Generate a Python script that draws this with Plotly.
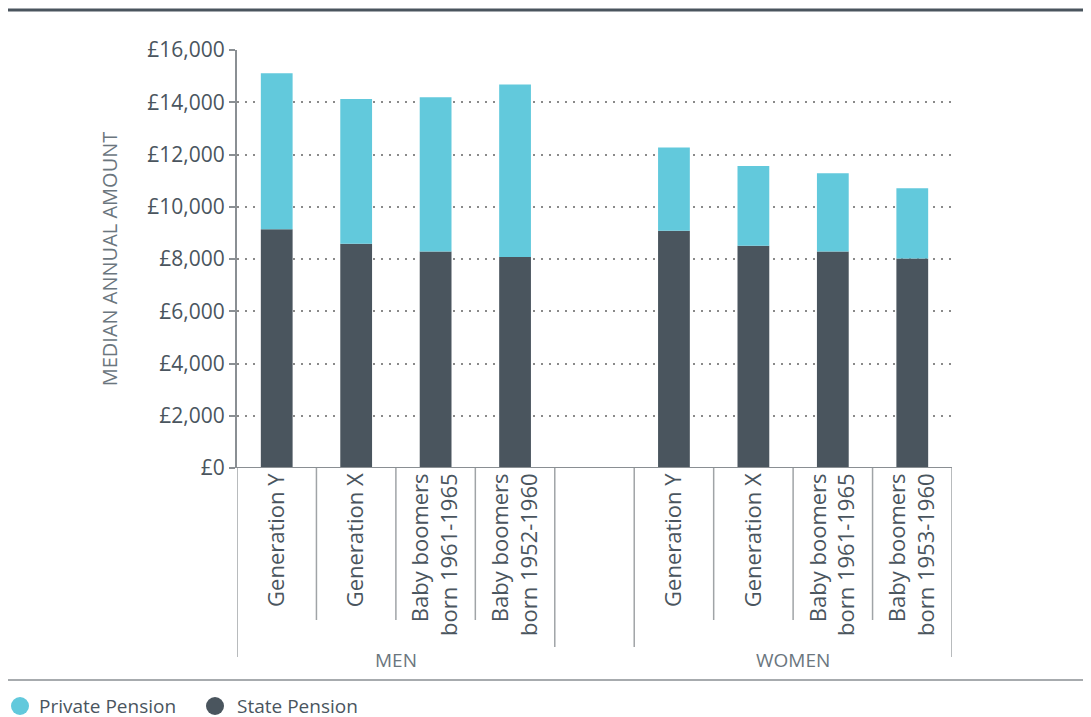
import plotly.graph_objects as go

groups = ["MEN", "WOMEN"]
categories = ["Generation Y", "Generation X", "Baby boomers<br>born 1961-1965", "Baby boomers<br>born 1952-1960",
              "Generation Y", "Generation X", "Baby boomers<br>born 1961-1965", "Baby boomers<br>born 1953-1960"]
state_pension = [9140, 8580, 8290, 8080, 9080, 8510, 8290, 8020]
total_pension = [15110, 14120, 14190, 14680, 12270, 11560, 11280, 10710]
private_pension = [t - s for t, s in zip(total_pension, state_pension)]
y_ticks = [0, 2000, 4000, 6000, 8000, 10000, 12000, 14000, 16000]
y_tick_labels = ["£0", "£2,000", "£4,000", "£6,000", "£8,000", "£10,000", "£12,000", "£14,000", "£16,000"]
series_names = ["Private Pension", "State Pension"]

positions = [0, 1, 2, 3, 5, 6, 7, 8]

DARK = "#4a555e"
CYAN = "#62c9dc"
TEXT = "#4a555e"
AXIS = "#8a8f93"
FONT = "Open Sans, sans-serif"

# plot area in figure pixels
L, T, W, H = 229, 42, 715, 418


def px(fx):
    return (fx - L) / W


def py(fy):
    return (T + H - fy) / H


fig = go.Figure()
fig.add_trace(go.Bar(x=positions, y=state_pension, marker=dict(color=DARK, line=dict(width=0)),
                     width=0.4, name=series_names[1], showlegend=False))
fig.add_trace(go.Bar(x=positions, y=private_pension, base=state_pension,
                     marker=dict(color=CYAN, line=dict(width=0)),
                     width=0.4, name=series_names[0], showlegend=False))

fig.update_layout(
    width=1091, height=717,
    margin=dict(l=L, r=1091 - L - W, t=T, b=717 - T - H),
    paper_bgcolor="white", plot_bgcolor="white",
    barmode="overlay", showlegend=False,
    font=dict(family=FONT, color=TEXT, size=19),
    xaxis=dict(range=[-0.5, 8.5], tickvals=positions, ticktext=categories, tickangle=-90,
               showgrid=False, zeroline=False, showline=False, ticks="",
               tickfont=dict(size=22, color=TEXT), fixedrange=True),
    yaxis=dict(range=[0, 16000], tickvals=y_ticks, ticktext=y_tick_labels,
               showgrid=True, gridcolor="#8a8a8a", griddash="1.5px,6.5px", gridwidth=1.5,
               zeroline=False, showline=True, linecolor=AXIS, linewidth=2,
               ticks="outside", ticklen=6, tickcolor=AXIS, tickwidth=2,
               tickfont=dict(size=21, color=TEXT),
               title=dict(text="MEDIAN ANNUAL AMOUNT", font=dict(size=20, color="#6b767e"), standoff=24)),
)

# x axis baseline
fig.add_shape(type="line", xref="paper", yref="y", x0=-5 / W, x1=1, y0=0, y1=0,
              line=dict(color=AXIS, width=2))
# category dividers
for b in [0.5, 1.5, 2.5, 5.5, 6.5, 7.5]:
    fig.add_shape(type="line", xref="x", yref="paper", x0=b, x1=b, y0=0, y1=-152 / H,
                  line=dict(color="#a0a4a7", width=1.5))
for b, depth in [(-0.5, 189), (3.5, 179), (4.5, 179), (8.5, 189)]:
    fig.add_shape(type="line", xref="x", yref="paper", x0=b, x1=b, y0=0, y1=-depth / H,
                  line=dict(color="#a0a4a7", width=1.5))
# group labels
for g, cx in zip(groups, [1.5, 6.5]):
    fig.add_annotation(x=cx, xref="x", y=-192 / H, yref="paper", text=g, showarrow=False,
                       yanchor="middle", font=dict(size=19, color="#6b767e"))
# top and bottom rules
fig.add_shape(type="line", xref="paper", yref="paper", x0=px(0), x1=px(1091),
              y0=py(2), y1=py(2), line=dict(color=DARK, width=3))
fig.add_shape(type="line", xref="paper", yref="paper", x0=px(0), x1=px(1091),
              y0=py(672), y1=py(672), line=dict(color="#8a8f93", width=1.5))

# legend (circle swatches + labels)
for name, color, cx, tx in zip(series_names, [CYAN, DARK], [12, 207], [29, 227]):
    fig.add_shape(type="circle", xref="paper", yref="paper", xsizemode="pixel", ysizemode="pixel",
                  xanchor=px(cx), yanchor=py(698), x0=-9, x1=9, y0=-9, y1=9,
                  fillcolor=color, line=dict(width=0))
    fig.add_annotation(x=px(tx), y=py(698), xref="paper", yref="paper", text=name, showarrow=False,
                       xanchor="left", yanchor="middle", font=dict(size=19, color=TEXT))

fig.write_html("out.html")
